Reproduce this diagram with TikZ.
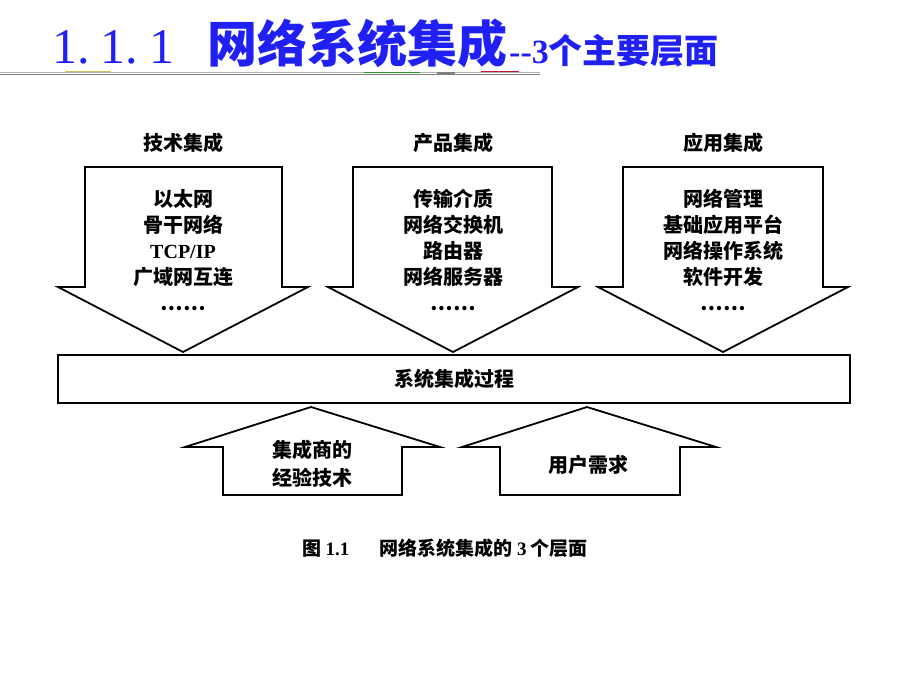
\documentclass[tikz,border=0pt]{standalone}
\usepackage{fontspec}
\setmainfont{Liberation Serif}
\newfontfamily\cjk{Noto Sans CJK SC}
\definecolor{titleblue}{RGB}{32,32,245}
\definecolor{ruleolive}{RGB}{214,190,90}
\definecolor{rulegreen}{RGB}{40,150,40}
\definecolor{rulered}{RGB}{200,20,50}
\tikzset{
  outline/.style={draw=black, line width=1.8pt, line join=miter},
  lbl/.style={font=\cjk\bfseries\fontsize{20}{26}\selectfont, align=center, inner sep=0pt},
}

\begin{document}
\begin{tikzpicture}[x=1pt,y=-1pt]
\useasboundingbox (0,0) rectangle (920,690);
% title
\node [anchor=base west, inner sep=0pt, text=titleblue, font=\fontsize{50}{50}\selectfont] (tnum) at (52,64) {1.\kern11pt1.\kern11pt1};
\node [anchor=base west, inner sep=0pt, text=titleblue, font=\cjk\bfseries\fontsize{50}{50}\selectfont] (tmain) at (207,63) {网络系统集成};
\node [anchor=base west, inner sep=0pt, text=titleblue, font=\cjk\bfseries\fontsize{34}{34}\selectfont] (tsub) at (509,64) {{\rmfamily\bfseries -{}-3}个主要层面};
\draw [gray!60, line width=0.6pt] (0,72) -- (540,72);
\draw [gray, line width=0.6pt] (0,74.5) -- (540,74.5);
\draw [ruleolive, line width=1pt] (65,72) -- (111,72);
\draw [rulegreen, line width=1pt] (364,73) -- (420,73);
\draw [gray, line width=2pt] (437,73) -- (455,73);
\draw [rulered, line width=1pt] (481,72) -- (519,72);
% three levels
\node [lbl] (tech) at (183,143) {技术集成};
\node [lbl] (prod) at (453,143) {产品集成};
\node [lbl] (app) at (723,143) {应用集成};
\draw [outline] (85,167) -- (282,167) -- (282,287) -- (308,287) -- (183,352) -- (58,287) -- (85,287) -- cycle;
\draw [outline] (353,167) -- (552,167) -- (552,287) -- (578,287) -- (453,352) -- (328,287) -- (353,287) -- cycle;
\draw [outline] (623,167) -- (823,167) -- (823,287) -- (848,287) -- (723,352) -- (598,287) -- (623,287) -- cycle;
\node [lbl] (techlist) at (183,250) {以太网\\骨干网络\\{\rmfamily TCP/IP}\\广域网互连\\……};
\node [lbl] (prodlist) at (453,250) {传输介质\\网络交换机\\路由器\\网络服务器\\……};
\node [lbl] (applist) at (723,250) {网络管理\\基础应用平台\\网络操作系统\\软件开发\\……};
% process bar
\draw [outline] (58,355) rectangle (850,403);
\node [lbl] (proc) at (454,379) {系统集成过程};
% inputs from below
\draw [outline] (311,407) -- (440,447) -- (402,447) -- (402,495) -- (223,495) -- (223,447) -- (185,447) -- cycle;
\draw [outline] (587,407) -- (716,447) -- (680,447) -- (680,495) -- (500,495) -- (500,447) -- (462,447) -- cycle;
\node [lbl, font=\cjk\bfseries\fontsize{20}{28}\selectfont] (vendor) at (312,464) {集成商的\\经验技术};
\node [lbl] (user) at (588,465) {用户需求};
% caption
\node [lbl, font=\cjk\bfseries\fontsize{19}{19}\selectfont] (cap) at (445,548) {图 {\rmfamily 1.1}\hspace{1.6em}网络系统集成的 {\rmfamily 3} 个层面};
\end{tikzpicture}
\end{document}
